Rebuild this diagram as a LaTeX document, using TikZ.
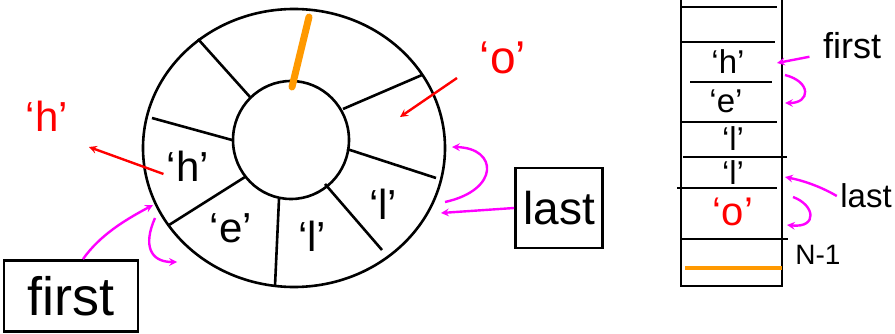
\documentclass[tikz,border=0pt]{standalone}
\usepackage{fontspec}
\setmainfont{Liberation Sans}
\definecolor{ptrcol}{RGB}{255,0,255}
\definecolor{valcol}{RGB}{255,0,0}
\definecolor{endcol}{RGB}{255,153,0}
\begin{document}
\begin{tikzpicture}[x=1pt, y=-1pt,
    cellline/.style={line width=2.6pt},
    mybox/.style={draw, line width=2.8pt, inner sep=0pt},
    ringlabel/.style={font=\fontsize{42}{42}\selectfont},
    arrlabel/.style={font=\fontsize{33}{33}\selectfont},
    ptrarrow/.style={->, >=stealth, ptrcol, line width=2.4pt},
    valarrow/.style={->, >=stealth, valcol, line width=2.4pt}
]
    \useasboundingbox (0,0) rectangle (895,334);

    % Ring buffer
    \draw[cellline] (294,148) ellipse [x radius=151, y radius=139];
    \draw[cellline] (291,140) ellipse [x radius=58, y radius=59];
    \foreach \xa/\ya/\xb/\yb in {198/39/250/97, 152/118/232/140, 245/177/169/225,
                                 279/199/275/286, 325/184/382/250, 347/149/436/178,
                                 343/109/422/75} {
        \draw[cellline] (\xa,\ya) -- (\xb,\yb);
    }
    \draw[endcol, line width=7pt, line cap=round] (292,87) -- (309,17);

    \node[ringlabel] (rh) at (188,166) {`h'};
    \node[ringlabel] (re) at (231,228) {`e'};
    \node[ringlabel] (rl1) at (312,236) {`l'};
    \node[ringlabel] (rl2) at (383,204) {`l'};

    % Values leaving and entering
    \node[ringlabel, valcol] (vh) at (47,116) {`h'};
    \node[ringlabel, valcol, font=\fontsize{46}{46}\selectfont] (vo) at (503,58) {`o'};
    \coordinate (hout) at (89,147);
    \coordinate (oin) at (400,117);
    \coordinate (ostart) at (457,78);
    \draw[valarrow] ([yshift=-8pt]rh.west) -- (hout);
    \draw[valarrow] (ostart) -- (oin);

    % Pointer boxes
    \node[mybox, minimum width=134pt, minimum height=71pt,
          font=\fontsize{54}{54}\selectfont] (bfirst) at (71,296) {first};
    \node[mybox, minimum width=87pt, minimum height=80pt,
          font=\fontsize{46}{46}\selectfont] (blast) at (559,208) {last};

    \coordinate (fhead) at (153,205);
    \coordinate (fcurl) at (155,218);
    \coordinate (fnext) at (177,262);
    \draw[ptrarrow] ([xshift=12pt]bfirst.north) .. controls (100,235) and (125,220) .. (fhead);
    \draw[ptrarrow] (fcurl) .. controls (143,245) and (150,262) .. (fnext);

    \coordinate (lhead) at (441,213);
    \coordinate (lcurl) at (445,202);
    \coordinate (lnext) at (452,147);
    \draw[ptrarrow] (blast.west) -- (lhead);
    \draw[ptrarrow] (lcurl) .. controls (500,190) and (498,148) .. (lnext);

    % Array view
    \draw[cellline, line width=2.8pt] (681,-10) -- (681,286) -- (782,286) -- (782,-10);
    \foreach \y/\xa/\xb in {7/681/777, 42/681/775, 82/690/772, 122/681/777,
                            157/683/787, 188/677/777, 239/681/788} {
        \draw[cellline] (\xa,\y) -- (\xb,\y);
    }
    \draw[endcol, line width=4pt] (685,268) -- (782,268);

    \node[arrlabel] (ah) at (728,62) {`h'};
    \node[arrlabel] (ae) at (726,101) {`e'};
    \node[arrlabel] (al1) at (733,139) {`l'};
    \node[arrlabel] (al2) at (733,173) {`l'};
    \node[arrlabel, valcol, font=\fontsize{40}{40}\selectfont] (ao) at (733,212) {`o'};
    \node[font=\fontsize{28}{28}\selectfont] (nlast) at (818,255) {N-1};

    \node[font=\fontsize{36}{36}\selectfont] (tfirst) at (852,46) {first};
    \node[font=\fontsize{33}{33}\selectfont] (tlast) at (866,196) {last};

    \coordinate (afhead) at (777,63);
    \coordinate (afcurl) at (785,75);
    \coordinate (afnext) at (785,103);
    \draw[ptrarrow] ([shift={(-10pt,6pt)}]tfirst.south west) -- (afhead);
    \draw[ptrarrow] (afcurl) .. controls (812,82) and (810,103) .. (afnext);

    \coordinate (alhead) at (785,177);
    \coordinate (alcurl) at (793,197);
    \coordinate (alnext) at (787,225);
    \draw[ptrarrow] (tlast.west) .. controls (818,185) and (800,180) .. (alhead);
    \draw[ptrarrow] (alcurl) .. controls (815,205) and (818,228) .. (alnext);
\end{tikzpicture}
\end{document}
